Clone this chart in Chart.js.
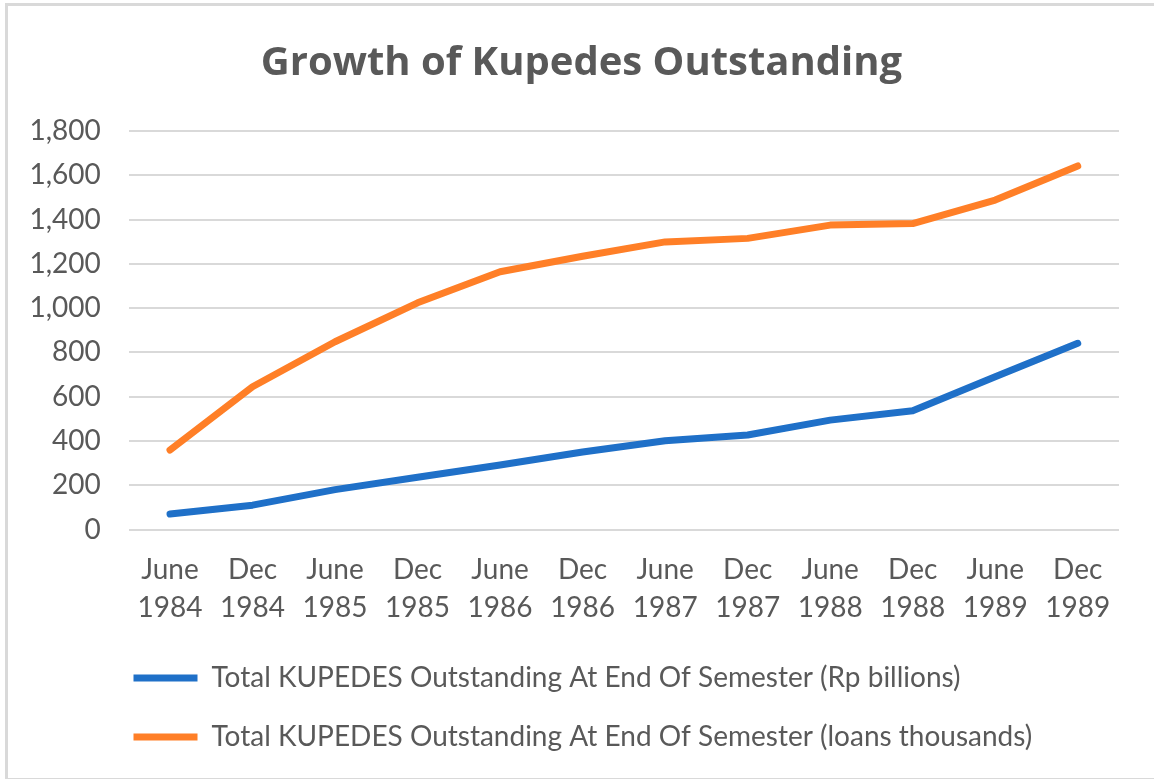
<!DOCTYPE html>
<html>
<head>
<meta charset="utf-8">
<script src="https://cdn.jsdelivr.net/npm/chart.js@4/dist/chart.umd.min.js"></script>
<style>
    body { margin: 0; background: #fff; }
    #frame {
        position: absolute; left: 5px; top: 3px;
        width: 1160px; height: 772px;
        border: 3px solid #d9d9d9;
    }
    #wrap { position: absolute; left: 0; top: 0; width: 1154px; height: 779px; }
</style>
</head>
<body>
<div id="frame"></div>
<div id="wrap"><canvas id="kupedes-chart"></canvas></div>
<script>
// semesters on the x axis (two-line labels)
const semesters = [
    ['June', '1984'], ['Dec', '1984'], ['June', '1985'], ['Dec', '1985'],
    ['June', '1986'], ['Dec', '1986'], ['June', '1987'], ['Dec', '1987'],
    ['June', '1988'], ['Dec', '1988'], ['June', '1989'], ['Dec', '1989']
];

// values
const rpBillions = [70, 110, 180, 236, 291, 350, 401, 427, 494, 536, 690, 841];
const loansThousands = [359, 645, 848, 1024, 1164, 1234, 1299, 1315, 1375, 1382, 1488, 1642];

const seriesNames = [
    'Total KUPEDES Outstanding At End Of Semester (Rp billions)',
    'Total KUPEDES Outstanding At End Of Semester (loans thousands)'
];

const yMin = 0, yMax = 1800, yStep = 200;

const FONT = 'Lato, "Open Sans", sans-serif';
const TITLE_FONT = '"Open Sans", Lato, sans-serif';
const GREY = '#595959';

// nudge title and legend sideways to where they sit in the original
const shiftBoxes = {
    id: 'shiftBoxes',
    afterLayout(chart) {
        chart.legend.left += 102.5;
        chart.legend.right += 102.5;
        chart.titleBlock.left += 22;
        chart.titleBlock.right += 22;
    }
};

const makeLine = (label, data, color) => ({
    label: label,
    data: data,
    borderColor: color,
    backgroundColor: color,
    borderWidth: 7,
    borderCapStyle: 'round',
    borderJoinStyle: 'round',
    pointStyle: 'line',
    pointRadius: 0,
    tension: 0,
    fill: false
});

new Chart(document.getElementById('kupedes-chart'), {
    type: 'line',
    data: {
        labels: semesters,
        datasets: [
            makeLine(seriesNames[0], rpBillions, '#1f70c8'),
            makeLine(seriesNames[1], loansThousands, '#ff7f27')
        ]
    },
    options: {
        responsive: true,
        maintainAspectRatio: false,
        animation: false,
        layout: { padding: { left: 0, right: 35, top: 0, bottom: 18 } },
        plugins: {
            title: {
                display: true,
                text: 'Growth of Kupedes Outstanding',
                color: GREY,
                font: { family: TITLE_FONT, size: 40, weight: 'bold', lineHeight: 1.2 },
                padding: { top: 40, bottom: 43 }
            },
            legend: {
                position: 'bottom',
                align: 'start',
                labels: {
                    usePointStyle: true,
                    pointStyleWidth: 64,
                    padding: 31,
                    color: GREY,
                    font: { family: FONT, size: 28 }
                }
            },
            tooltip: { enabled: false }
        },
        scales: {
            x: {
                offset: true,
                afterFit: scale => { scale.height = 103.5; },
                grid: { display: false, drawTicks: false },
                border: { display: false },
                ticks: {
                    color: GREY,
                    maxRotation: 0,
                    autoSkip: false,
                    padding: 21.5,
                    font: { family: FONT, size: 28, lineHeight: 1.357 }
                }
            },
            y: {
                min: yMin,
                max: yMax,
                afterFit: scale => { scale.width = 128.75; },
                grid: { color: '#d9d9d9', lineWidth: 2, drawTicks: false },
                border: { display: false },
                ticks: {
                    stepSize: yStep,
                    color: GREY,
                    padding: 28,
                    font: { family: FONT, size: 28 }
                }
            }
        }
    },
    plugins: [shiftBoxes]
});
</script>
</body>
</html>
